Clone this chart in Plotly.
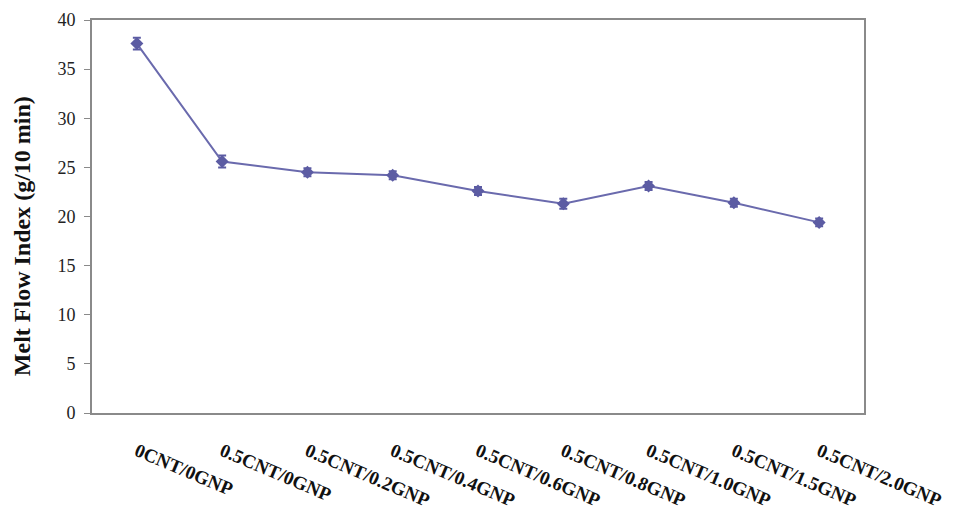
import plotly.graph_objects as go

categories = ["0CNT/0GNP", "0.5CNT/0GNP", "0.5CNT/0.2GNP", "0.5CNT/0.4GNP",
              "0.5CNT/0.6GNP", "0.5CNT/0.8GNP", "0.5CNT/1.0GNP",
              "0.5CNT/1.5GNP", "0.5CNT/2.0GNP"]
mfi = [37.6, 25.6, 24.5, 24.2, 22.6, 21.3, 23.1, 21.4, 19.4]
mfi_err = [0.6, 0.6, 0.4, 0.4, 0.4, 0.5, 0.4, 0.4, 0.4]
y_ticks = [0, 5, 10, 15, 20, 25, 30, 35, 40]
y_title = "Melt Flow Index (g/10 min)"

color = "#5c5ca3"
serif = "Liberation Serif, Times New Roman, serif"

fig = go.Figure(go.Scatter(
    x=categories, y=mfi,
    mode="lines+markers",
    line=dict(color="#6a6aad", width=2),
    marker=dict(symbol="diamond", size=10, color=color),
    error_y=dict(type="data", array=mfi_err, color=color, thickness=2, width=4),
    showlegend=False,
))

# page body has an 8px default margin, so the figure is sized to fit the window
fig.update_layout(
    width=956, height=506,
    margin=dict(l=84, r=100, t=12, b=101),
    paper_bgcolor="white", plot_bgcolor="white",
    font=dict(family=serif, color="#222"),
)
fig.update_xaxes(
    type="category", automargin=False,
    showgrid=False, zeroline=False,
    showline=True, linecolor="#8a8a8a", linewidth=2, mirror=True,
    ticks="", tickangle=23,
    tickfont=dict(family=serif, size=19, color="#111", weight="bold"),
    ticklabelstandoff=18,
)
fig.update_yaxes(
    range=[0, 40], tickvals=y_ticks, automargin=False,
    showgrid=False, zeroline=False,
    showline=True, linecolor="#8a8a8a", linewidth=2, mirror=True,
    ticks="outside", ticklen=6, tickcolor="#8a8a8a",
    tickfont=dict(family=serif, size=18, color="#222"),
    ticklabelstandoff=5,
)
fig.add_annotation(
    text=y_title, textangle=-90, showarrow=False,
    xref="paper", yref="paper", x=-0.0907, y=0.45,
    xanchor="center", yanchor="middle",
    font=dict(family=serif, size=24, color="#111", weight="bold"),
)

fig.write_html("out.html")
